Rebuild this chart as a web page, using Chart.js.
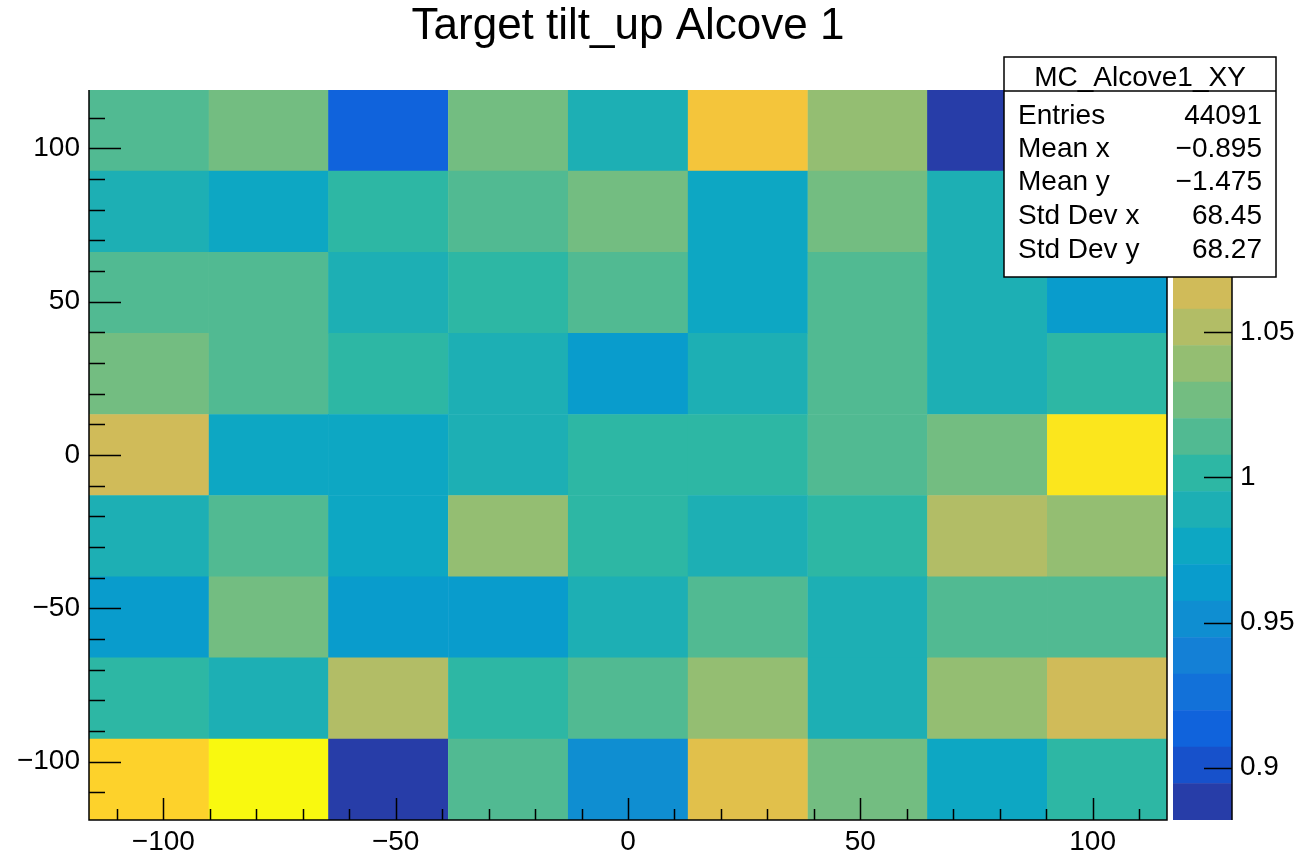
<!DOCTYPE html>
<html>
<head>
<meta charset="utf-8">
<script src="https://cdn.jsdelivr.net/npm/chart.js@4.4.1/dist/chart.umd.min.js"></script>
<style>
  html, body { margin: 0; padding: 0; background: #fff; }
  #wrap { position: relative; width: 1304px; height: 857px; }
  #zbar { position: absolute; left: 1173px; top: 0; }
  #main { position: absolute; left: 0; top: 0; }
</style>
</head>
<body>
<div id="wrap">
  <canvas id="zbar" width="131" height="857"></canvas>
  <canvas id="main" width="1304" height="857"></canvas>
</div>
<script>
// ── TH2 "MC_Alcove1_XY", drawn with colz ──
const titleText = 'Target tilt_up Alcove 1';
const FONT = '"Liberation Sans", Arial, Helvetica, sans-serif';

// bins
const xCenters = [-103.1, -77.3, -51.6, -25.8, 0, 25.8, 51.6, 77.3, 103.1];
const yEdges   = [-119, -92.6, -66.1, -39.7, -13.2, 13.2, 39.7, 66.1, 92.6, 119]; // bottom -> top
const xRange   = [-116, 116];

// cell contents, top row first (left -> right)
const zRows = [
  [1.014, 1.027, 0.913, 1.027, 0.989, 1.089, 1.039, 0.888, 1.001],
  [0.989, 0.976, 1.001, 1.014, 1.027, 0.976, 1.027, 0.989, 1.001],
  [1.014, 1.014, 0.989, 1.001, 1.014, 0.976, 1.014, 0.989, 0.964],
  [1.027, 1.014, 1.001, 0.989, 0.964, 0.989, 1.014, 0.989, 1.001],
  [1.064, 0.976, 0.976, 0.989, 1.001, 1.001, 1.014, 1.027, 1.115],
  [0.989, 1.014, 0.976, 1.039, 1.001, 0.989, 1.001, 1.052, 1.039],
  [0.964, 1.027, 0.964, 0.964, 0.989, 1.014, 0.989, 1.014, 1.014],
  [1.001, 0.989, 1.052, 1.001, 1.014, 1.039, 0.989, 1.039, 1.064],
  [1.102, 1.127, 0.888, 1.014, 0.951, 1.077, 1.027, 0.976, 1.001]
];

// axis ticks
const xTicks = [-100, -50, 0, 50, 100];
const yTicks = [-100, -50, 0, 50, 100];
const zTicks = [0.9, 0.95, 1, 1.05];
const zRange = [0.882, 1.1334];
const nContours = 20;

// stats box
const statsName = 'MC_Alcove1_XY';
const statsLabels = ['Entries', 'Mean x', 'Mean y', 'Std Dev x', 'Std Dev y'];
const statsValues = ['44091', '\u22120.895', '\u22121.475', '68.45', '68.27'];

// ROOT kBird palette
const birdStops = [0.0, 0.125, 0.25, 0.375, 0.5, 0.625, 0.75, 0.875, 1.0];
const birdR = [0.2082, 0.0592, 0.0780, 0.0232, 0.1802, 0.5301, 0.8186, 0.9956, 0.9764];
const birdG = [0.1664, 0.3599, 0.5041, 0.6419, 0.7178, 0.7492, 0.7328, 0.7862, 0.9832];
const birdB = [0.5293, 0.8684, 0.8385, 0.7914, 0.6425, 0.4662, 0.3499, 0.1968, 0.0539];

function bird(t) {
  let k = 1;
  while (k < birdStops.length - 1 && t > birdStops[k]) k++;
  const f = (t - birdStops[k - 1]) / (birdStops[k] - birdStops[k - 1]);
  const c = a => Math.round(255 * (a[k - 1] + f * (a[k] - a[k - 1])));
  return `rgb(${c(birdR)},${c(birdG)},${c(birdB)})`;
}
function levelColor(i) {
  const idx = Math.floor((i + 0.99) * 255 / nContours);
  return bird(idx / 255);
}
function zColor(z) {
  const dz = (zRange[1] - zRange[0]) / nContours;
  let i = Math.floor((z - zRange[0]) / dz);
  i = Math.max(0, Math.min(nContours - 1, i));
  return levelColor(i);
}
const minus = v => String(v).replace('-', '\u2212');

// ── main histogram ──
const rowsBottomUp = zRows.slice().reverse();
const cellSets = rowsBottomUp.map((row, r) => ({
  data: xCenters.map(xc => ({ x: xc, y: [yEdges[r], yEdges[r + 1]] })),
  backgroundColor: row.map(zColor),
  borderWidth: 0,
  barPercentage: 1,
  categoryPercentage: 1,
  grouped: false
}));

const rootDecor = {
  id: 'rootDecor',
  afterDatasetsDraw(chart) {
    const { ctx, chartArea: a, scales: { x, y } } = chart;
    ctx.save();
    ctx.strokeStyle = '#000';
    ctx.lineWidth = 1.5;
    ctx.beginPath();
    for (let v = -110; v <= 110; v += 10) {
      const px = Math.round(x.getPixelForValue(v)) + 0.5;
      const len = v % 50 === 0 ? 22 : 11;
      ctx.moveTo(px, a.bottom); ctx.lineTo(px, a.bottom - len);
    }
    for (let v = -110; v <= 110; v += 10) {
      const py = Math.round(y.getPixelForValue(v)) + 0.5;
      const len = v % 50 === 0 ? 32 : 16;
      ctx.moveTo(a.left, py); ctx.lineTo(a.left + len, py);
    }
    ctx.stroke();
    // frame
    ctx.beginPath();
    ctx.moveTo(a.left, a.top); ctx.lineTo(a.left, a.bottom);
    ctx.lineTo(a.right, a.bottom); ctx.lineTo(a.right, a.top);
    ctx.stroke();

    // title
    ctx.fillStyle = '#000';
    ctx.font = '44px ' + FONT;
    ctx.textAlign = 'center';
    ctx.textBaseline = 'alphabetic';
    ctx.fillText(titleText, (a.left + a.right) / 2, 39);

    // stats box
    const bx = 1004, by = 57, bw = 272, bh = 220;
    ctx.fillStyle = '#fff';
    ctx.fillRect(bx, by, bw, bh);
    ctx.lineWidth = 1.5;
    ctx.strokeRect(bx, by, bw, bh);
    ctx.beginPath();
    ctx.moveTo(bx, 91); ctx.lineTo(bx + bw, 91);
    ctx.stroke();
    ctx.fillStyle = '#000';
    ctx.font = '28px ' + FONT;
    ctx.textAlign = 'center';
    ctx.fillText(statsName, bx + bw / 2, 86);
    const baselines = [124, 157, 190, 224, 258];
    statsLabels.forEach((lab, i) => {
      ctx.textAlign = 'left';
      ctx.fillText(lab, 1018, baselines[i]);
      ctx.textAlign = 'right';
      ctx.fillText(statsValues[i], 1262, baselines[i]);
    });
    ctx.restore();
  }
};

new Chart(document.getElementById('main').getContext('2d'), {
  type: 'bar',
  data: { datasets: cellSets },
  options: {
    responsive: false,
    animation: false,
    devicePixelRatio: 1,
    layout: { padding: { top: 90, right: 137, left: 0, bottom: 0 } },
    plugins: { legend: { display: false }, tooltip: { enabled: false }, title: { display: false } },
    scales: {
      x: {
        type: 'linear', min: xRange[0], max: xRange[1], offset: false,
        grid: { display: false, drawTicks: false }, border: { display: false },
        afterBuildTicks: s => { s.ticks = xTicks.map(v => ({ value: v })); },
        afterFit: s => { s.height = 37; },
        ticks: { color: '#000', font: { family: FONT, size: 28 }, padding: 5, maxRotation: 0, callback: v => minus(v) }
      },
      y: {
        type: 'linear', min: yEdges[0], max: yEdges[yEdges.length - 1],
        grid: { display: false, drawTicks: false }, border: { display: false },
        afterBuildTicks: s => { s.ticks = yTicks.map(v => ({ value: v })); },
        afterFit: s => { s.width = 89; },
        ticks: { color: '#000', font: { family: FONT, size: 28 }, padding: 9, callback: v => minus(v) }
      }
    }
  },
  plugins: [rootDecor]
});

// ── colour palette axis ──
const dzLevel = (zRange[1] - zRange[0]) / nContours;
const levelSets = [];
for (let i = 0; i < nContours; i++) {
  levelSets.push({
    yAxisID: 'z',
    data: [[zRange[0] + i * dzLevel, zRange[0] + (i + 1) * dzLevel]],
    backgroundColor: levelColor(i),
    borderWidth: 0,
    barPercentage: 1,
    categoryPercentage: 1,
    grouped: false
  });
}

const zTickMarks = {
  id: 'zTickMarks',
  afterDatasetsDraw(chart) {
    const { ctx, chartArea: a, scales: { z } } = chart;
    ctx.save();
    ctx.strokeStyle = '#000';
    ctx.lineWidth = 1.5;
    ctx.beginPath();
    zTicks.forEach(v => {
      const py = Math.round(z.getPixelForValue(v)) + 0.5;
      ctx.moveTo(a.right, py); ctx.lineTo(a.right - 28, py);
    });
    ctx.moveTo(a.right, a.top); ctx.lineTo(a.right, a.bottom);
    ctx.stroke();
    ctx.restore();
  }
};

new Chart(document.getElementById('zbar').getContext('2d'), {
  type: 'bar',
  data: { labels: [''], datasets: levelSets },
  options: {
    responsive: false,
    animation: false,
    devicePixelRatio: 1,
    layout: { padding: { top: 90, bottom: 37, left: 0, right: 0 } },
    plugins: { legend: { display: false }, tooltip: { enabled: false } },
    scales: {
      x: { type: 'category', display: false, offset: true },
      z: {
        type: 'linear', position: 'right', axis: 'y',
        min: zRange[0], max: zRange[1],
        grid: { display: false, drawTicks: false }, border: { display: false },
        afterBuildTicks: s => { s.ticks = zTicks.map(v => ({ value: v })); },
        afterFit: s => { s.width = 72; },
        ticks: { color: '#000', font: { family: FONT, size: 28 }, padding: 8, callback: v => String(v) }
      }
    }
  },
  plugins: [zTickMarks]
});
</script>
</body>
</html>
